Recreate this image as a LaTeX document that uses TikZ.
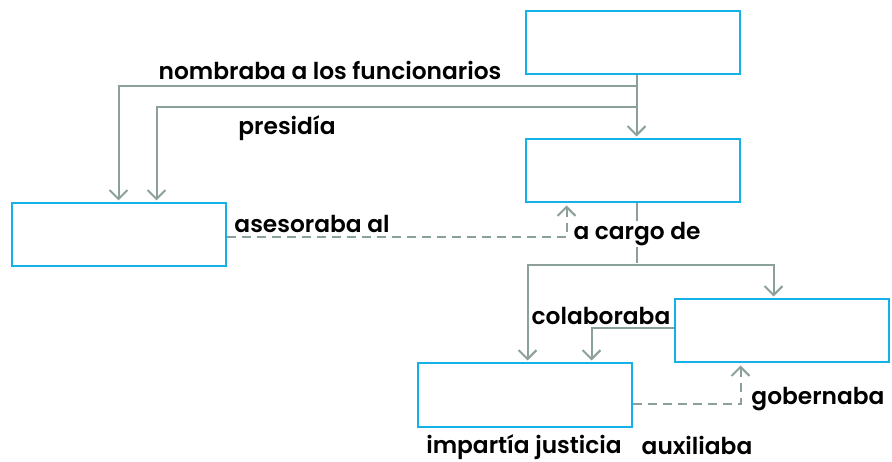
\documentclass[tikz,border=0pt]{standalone}
\usepackage{fontspec}
\setmainfont{Poppins}[UprightFont=* Medium, BoldFont=* SemiBold]
\usepackage{tikz}
\usetikzlibrary{positioning}
\usetikzlibrary{arrows.meta}
\tikzset{>={Straight Barb[width=18pt,length=9pt,line width=2pt]}}
\definecolor{boxcyan}{RGB}{20,176,232}
\definecolor{linegray}{RGB}{140,160,154}

\begin{document}
\begin{tikzpicture}[x=1pt, y=-1pt, box/.style={rectangle, draw=boxcyan, line width=2pt, minimum width=214pt, minimum height=63pt}, emptynode/.style={draw=none, fill=none, inner sep=1pt, font=\fontsize{23.3pt}{27pt}\selectfont\bfseries}, conn/.style={draw=linegray, line width=2pt, shorten >=2pt}, dashconn/.style={conn, dash pattern=on 9pt off 6pt}]
    \useasboundingbox (0,0) rectangle (892,462);

    %Nodes
    \node[box](top) at (632.5,43){};
    \node[box](mid)[below=63pt of top]{};
    \node[box](left)[left=298pt of mid, yshift=-64pt]{};
    \node[box](right)[below=95pt of mid, xshift=149pt]{};
    \node[box](bottom)[below=159pt of mid, xshift=-108pt]{};
    \coordinate (topout) at ([xshift=4pt]top.south);
    \coordinate (midout) at ([xshift=4pt]mid.south);
    \coordinate (fork) at ([yshift=-62pt]midout);

    %Lines
    \draw[conn,->] (topout) -- (topout |- mid.north);
    \draw[conn,->] ([yshift=-11pt]topout) -| (left.north);
    \draw[conn,->] ([yshift=-32pt]topout) -| ([xshift=38pt]left.north);
    \draw[dashconn,->] ([yshift=-2pt]left.east) -| ([xshift=-66pt]mid.south);
    \draw[conn] (midout) -- (fork);
    \draw[conn,->] (fork) -| ([xshift=3pt]bottom.north);
    \draw[conn,->] (fork) -| ([xshift=-8pt]right.north);
    \draw[conn,->] ([yshift=3pt]right.west) -| ([xshift=67pt]bottom.north);
    \draw[dashconn,->] ([yshift=-9pt]bottom.east) -| ([xshift=-41pt]right.south);

    %Labels
    \node[emptynode](nombraba) at (330,70){nombraba a los funcionarios};
    \node[emptynode](presidia) at (287,128){presidía};
    \node[emptynode](asesoraba) at (312,224){asesoraba al};
    \node[emptynode, fill=white](cargo) at (637,234){a cargo de};
    \node[emptynode](colaboraba) at (601,316){colaboraba};
    \node[emptynode](gobernaba) at (818,399){gobernaba};
    \node[emptynode](imparte) at (524,447){impartía justicia};
    \node[emptynode](auxiliaba) at (697,445){auxiliaba};

\end{tikzpicture}
\end{document}
